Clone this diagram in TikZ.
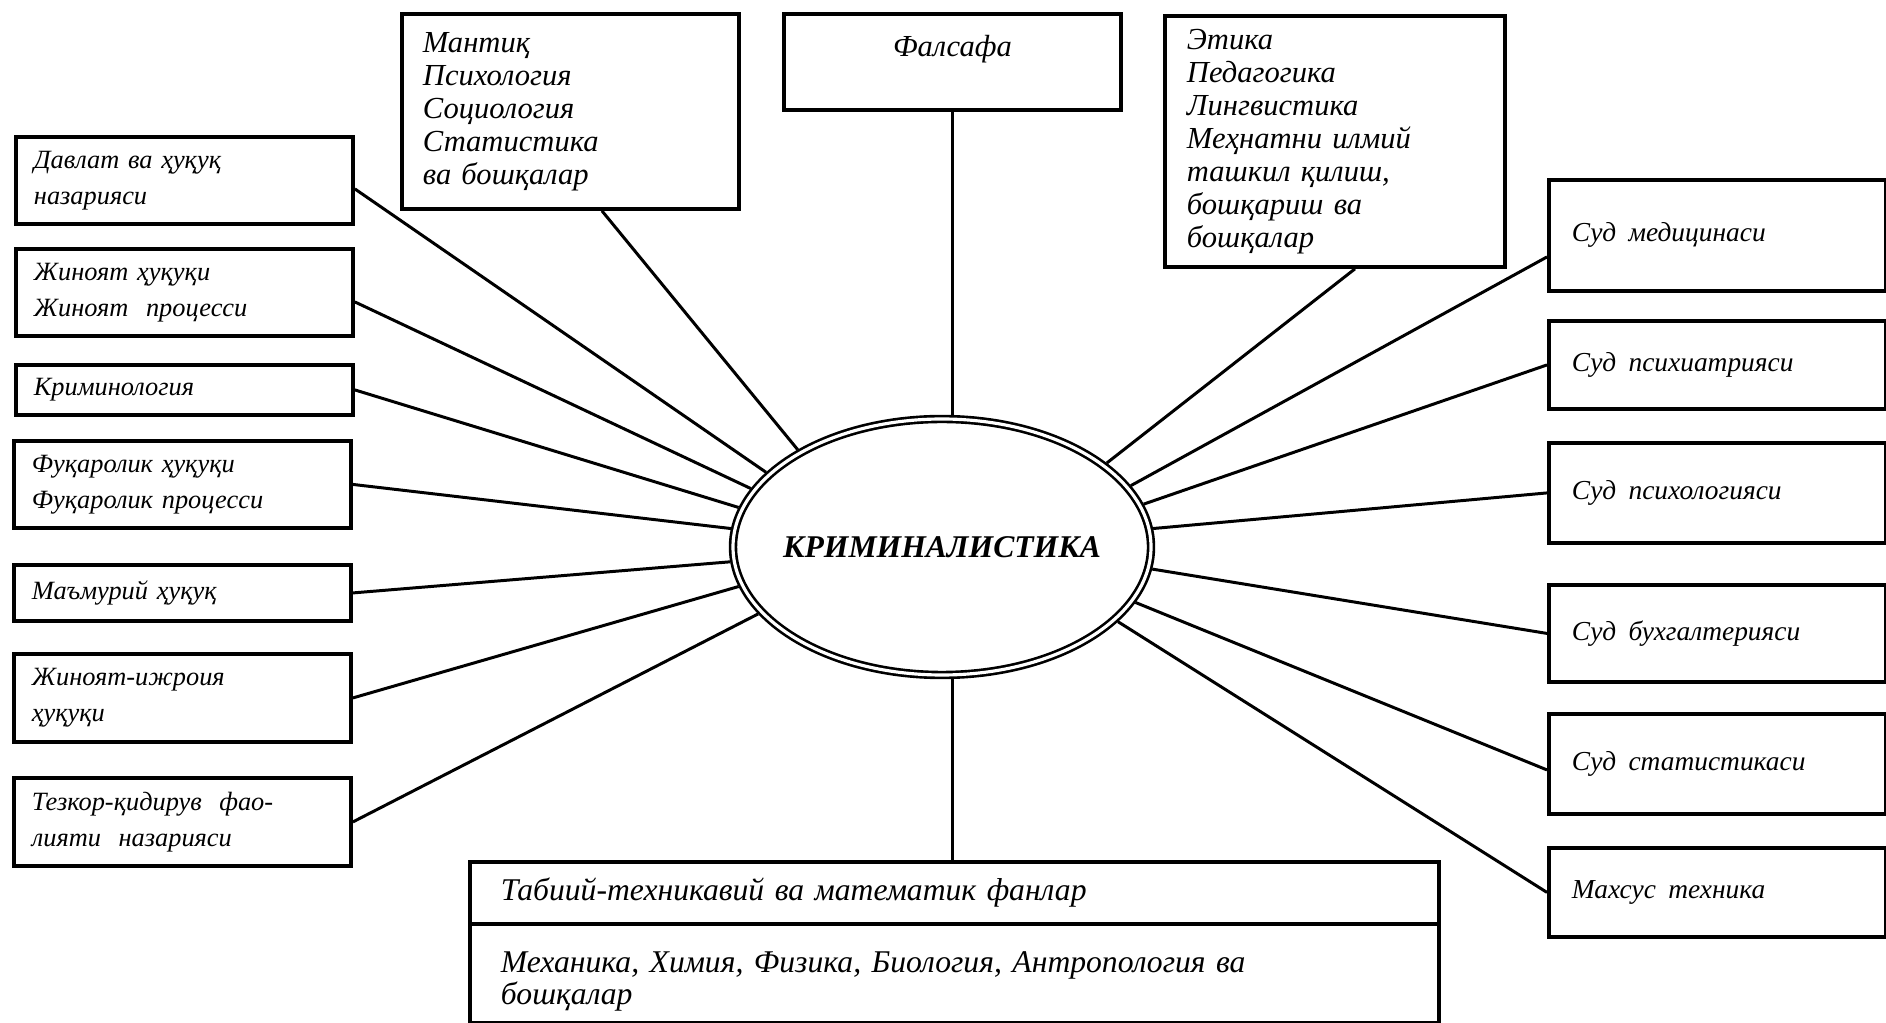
\documentclass[tikz,border=0pt]{standalone}
\usepackage{fontspec}
\setmainfont{Liberation Serif}
\usetikzlibrary{calc,shapes.geometric}
\begin{document}
\begin{tikzpicture}[x=1cm,y=-1cm,
  box/.style={draw, line width=1.1pt, rectangle, anchor=north west, inner ysep=0pt, align=left},
  lbox/.style={box, inner xsep=0.18cm, minimum width=3.37cm, text width=3.01cm, font=\itshape\fontsize{7.5}{10.2}\selectfont},
  tbox/.style={box, inner xsep=0.21cm, minimum width=3.37cm, text width=2.95cm, font=\itshape\fontsize{8.7}{9.4}\selectfont},
  rbox/.style={box, inner xsep=0.23cm, minimum width=3.37cm, text width=2.91cm, font=\itshape\fontsize{7.8}{10}\selectfont},
  bbox/.style={box, inner xsep=0.31cm, minimum width=9.69cm, text width=9.07cm, font=\itshape\fontsize{9}{9.2}\selectfont},
  link/.style={line width=0.85pt},
  ring/.style={draw, ellipse, double, line width=0.75pt, double distance=0.9pt, outer sep=1.2pt, inner sep=0pt,
    font=\bfseries\itshape\fontsize{9}{11}\selectfont}
]
\useasboundingbox (0,0) rectangle (18.86,10.23);

% centre
\node[ring, minimum width=4.18cm, minimum height=2.56cm] (ell) at (9.42,5.47) {\makebox[0pt]{КРИМИНАЛИСТИКА}};

% left column
\node[lbox, minimum height=0.87cm] (L1) at (0.14,1.35) {Давлат ва ҳуқуқ\\назарияси};
\node[lbox, minimum height=0.87cm] (L2) at (0.14,2.47) {Жиноят ҳуқуқи\\Жиноят\ \ процесси};
\node[lbox, minimum height=0.50cm] (L3) at (0.14,3.63) {Криминология};
\node[lbox, minimum height=0.87cm] (L4) at (0.12,4.39) {Фуқаролик ҳуқуқи\\Фуқаролик процесси};
\node[lbox, minimum height=0.56cm] (L5) at (0.12,5.63) {Маъмурий ҳуқуқ};
\node[lbox, minimum height=0.88cm] (L6) at (0.12,6.52) {Жиноят-ижроия\\ҳуқуқи};
\node[lbox, minimum height=0.88cm] (L7) at (0.12,7.76) {Тезкор-қидирув\ \ фао-\\лияти\ \ назарияси};

% top row
\node[tbox, minimum height=1.95cm] (M) at (4.00,0.12) {Мантиқ\\Психология\\Социология\\Статистика\\ва бошқалар};
\node[tbox, minimum height=0.96cm, align=center] (F) at (7.82,0.12) {Фалсафа\\\mbox{}};
\node[tbox, minimum height=2.51cm, minimum width=3.40cm, text width=2.96cm] (E) at (11.63,0.14)
  {Этика\\Педагогика\\Лингвистика\\Меҳнатни илмий\\ташкил қилиш,\\бошқариш ва\\бошқалар};

% right column
\node[rbox, minimum height=1.11cm] (R1) at (15.47,1.78) {Суд\hspace{0.45em}медицинаси};
\node[rbox, minimum height=0.88cm] (R2) at (15.47,3.19) {Суд\hspace{0.45em}психиатрияси};
\node[rbox, minimum height=1.00cm] (R3) at (15.47,4.41) {Суд\hspace{0.45em}психологияси};
\node[rbox, minimum height=0.97cm] (R4) at (15.47,5.83) {Суд\hspace{0.45em}бухгалтерияси};
\node[rbox, minimum height=1.00cm] (R5) at (15.47,7.12) {Суд\hspace{0.45em}статистикаси};
\node[rbox, minimum height=0.89cm] (R6) at (15.47,8.46) {Махсус\hspace{0.45em}техника};

% bottom box
\node[bbox, minimum height=0.62cm] (B1) at (4.68,8.60) {Табиий-техникавий ва математик фанлар};
\node[bbox, minimum height=0.99cm] (B2) at (4.68,9.22) {\rule{0pt}{10.5pt}Механика, Химия, Физика, Биология, Антропология ва\\бошқалар};

% connectors: left
\draw[link] ($(L1.east)+(0,0.085)$) -- (ell.157.7);
\draw[link] ($(L2.east)+(0,0.095)$) -- (ell.163.6);
\draw[link] (L3.east) -- (ell.169.8);
\draw[link] (L4.east) -- (ell.175.4);
\draw[link] (L5.east) -- (ell.184.0);
\draw[link] (L6.east) -- (ell.191.8);
\draw[link] (L7.east) -- (ell.200.3);
% top
\draw[link] ($(M.south)+(0.315,0)$) -- (ell.146.9);
\draw[link] (F.south) -- (F.south |- ell.north);
\draw[link] ($(E.south)+(0.2,0)$) -- (ell.27.8);
% right
\draw[link] ($(R1.west)+(0,0.215)$) -- (ell.18.0);
\draw[link] (R2.west) -- (ell.12.1);
\draw[link] (R3.west) -- (ell.5.1);
\draw[link] (R4.west) -- (ell.354.6);
\draw[link] ($(R5.west)+(0,0.06)$) -- (ell.344.7);
\draw[link] (R6.west) -- (ell.337.5);
% bottom
\draw[link] (F.south |- ell.south) -- (F.south |- B1.north);
\end{tikzpicture}
\end{document}
